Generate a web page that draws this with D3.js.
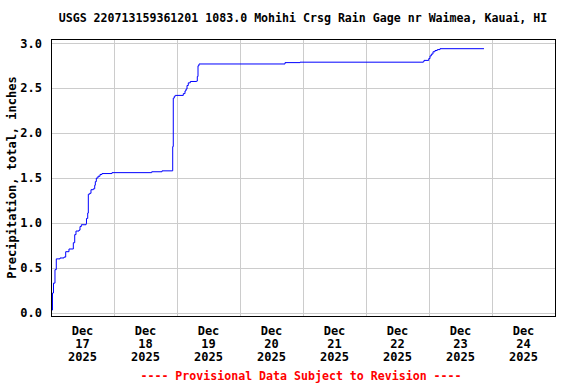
<!DOCTYPE html>
<html>
<head>
<meta charset="utf-8">
<script src="https://cdn.jsdelivr.net/npm/d3@7"></script>
<style>
  body { margin: 0; background: #fff; }
  text { font-family: "DejaVu Sans Mono", monospace; font-weight: bold; font-size: 12px; }
</style>
</head>
<body>
<svg id="chart"></svg>
<script>
// readings, Hawaii local time
const times = [
  "2025-12-17 00:11", "2025-12-17 00:34", "2025-12-17 00:57", "2025-12-17 01:31", "2025-12-17 02:01",
  "2025-12-17 03:26", "2025-12-17 04:57", "2025-12-17 05:36", "2025-12-17 06:51", "2025-12-17 08:30",
  "2025-12-17 09:02", "2025-12-17 09:31", "2025-12-17 10:40", "2025-12-17 11:03", "2025-12-17 11:33",
  "2025-12-17 13:20", "2025-12-17 13:31", "2025-12-17 13:59", "2025-12-17 14:13", "2025-12-17 14:44",
  "2025-12-17 15:14", "2025-12-17 16:07", "2025-12-17 16:39", "2025-12-17 16:53", "2025-12-17 17:16",
  "2025-12-17 17:54", "2025-12-17 18:40", "2025-12-17 19:26", "2025-12-17 23:14", "2025-12-18 14:22",
  "2025-12-18 18:17", "2025-12-18 22:22", "2025-12-18 22:35", "2025-12-18 22:58", "2025-12-18 23:21",
  "2025-12-19 02:24", "2025-12-19 03:03", "2025-12-19 03:26", "2025-12-19 03:49", "2025-12-19 04:18",
  "2025-12-19 05:04", "2025-12-19 07:30", "2025-12-19 07:44", "2025-12-19 08:00", "2025-12-19 08:23",
  "2025-12-20 11:26", "2025-12-20 17:09", "2025-12-20 22:51", "2025-12-22 21:49", "2025-12-22 22:06",
  "2025-12-22 23:54", "2025-12-23 00:23", "2025-12-23 00:53", "2025-12-23 01:31", "2025-12-23 02:17",
  "2025-12-23 03:09", "2025-12-23 04:11", "2025-12-23 20:57"
];
const precip = [
  0.03, 0.22, 0.33, 0.48, 0.60,
  0.61, 0.62, 0.68, 0.71, 0.78,
  0.87, 0.91, 0.92, 0.96, 0.98,
  0.99, 1.05, 1.11, 1.32, 1.33,
  1.37, 1.38, 1.42, 1.46, 1.50,
  1.52, 1.54, 1.55, 1.56, 1.57,
  1.58, 1.85, 2.39, 2.41, 2.42,
  2.44, 2.47, 2.49, 2.53, 2.56,
  2.575, 2.58, 2.63, 2.75, 2.77,
  2.77, 2.785, 2.79, 2.795, 2.81,
  2.83, 2.86, 2.88, 2.906, 2.92,
  2.93, 2.94, 2.94
];
const yTicks = [0, 0.5, 1.0, 1.5, 2.0, 2.5, 3.0];
const dayLabels = ["2025-12-17", "2025-12-18", "2025-12-19", "2025-12-20",
                   "2025-12-21", "2025-12-22", "2025-12-23", "2025-12-24"];
const title = "USGS 220713159361201 1083.0 Mohihi Crsg Rain Gage nr Waimea, Kauai, HI";
const yLabel = "Precipitation, total, inches";
const footnote = "---- Provisional Data Subject to Revision ----";

const W = 576, H = 384;
const margin = { top: 39, right: 21, bottom: 68, left: 51 };
const width = W - margin.left - margin.right;
const height = H - margin.top - margin.bottom;

const parseTime = d3.timeParse("%Y-%m-%d %H:%M");
const parseDay = d3.timeParse("%Y-%m-%d");
const data = times.map((t, i) => ({ t: parseTime(t), v: precip[i] }));

const x = d3.scaleTime()
  .domain([parseDay("2025-12-17"), parseDay("2025-12-25")])
  .range([0, width]);
const y = d3.scaleLinear()
  .domain([-0.036, 3.048])
  .range([height, 0]);

const svg = d3.select("#chart").attr("width", W).attr("height", H);
const g = svg.append("g").attr("transform", `translate(${margin.left},${margin.top})`);

// grid
g.selectAll(".hgrid").data(yTicks).enter().append("line")
  .attr("x1", 0).attr("x2", width)
  .attr("y1", d => Math.round(y(d)) + 0.5).attr("y2", d => Math.round(y(d)) + 0.5)
  .attr("stroke", "#cccccc");
const midnights = d3.timeDay.range(parseDay("2025-12-18"), parseDay("2025-12-25"));
g.selectAll(".vgrid").data(midnights).enter().append("line")
  .attr("x1", d => Math.round(x(d)) + 0.5).attr("x2", d => Math.round(x(d)) + 0.5)
  .attr("y1", 0).attr("y2", height)
  .attr("stroke", "#cccccc");

// series
const line = d3.line()
  .x(d => x(d.t))
  .y(d => y(d.v))
  .curve(d3.curveStepAfter);
g.append("path")
  .attr("d", line(data))
  .attr("fill", "none")
  .attr("stroke", "#0000ff")
  .attr("stroke-width", 1);

// frame
g.append("rect")
  .attr("x", 0.5).attr("y", 0.5)
  .attr("width", width).attr("height", height)
  .attr("fill", "none").attr("stroke", "#000");

// y tick labels
g.selectAll(".ylab").data(yTicks).enter().append("text")
  .attr("x", -9).attr("y", d => y(d))
  .attr("dy", "0.35em")
  .attr("text-anchor", "end")
  .text(d => d.toFixed(1));

// x tick labels (centered on noon)
const xl = g.selectAll(".xlab").data(dayLabels.map(parseDay)).enter().append("text")
  .attr("text-anchor", "middle")
  .attr("transform", d => `translate(${x(d3.timeHour.offset(d, 12))},${height + 19})`);
xl.append("tspan").attr("x", 0).attr("y", 0).text(d3.timeFormat("%b"));
xl.append("tspan").attr("x", 0).attr("y", 13).text(d3.timeFormat("%d"));
xl.append("tspan").attr("x", 0).attr("y", 26).text(d3.timeFormat("%Y"));

// title, axis label, footnote
svg.append("text")
  .attr("x", margin.left + width / 2).attr("y", 22)
  .attr("text-anchor", "middle")
  .style("font-size", "11.6px")
  .text(title);
svg.append("text")
  .attr("transform", `translate(16,${margin.top + height / 2}) rotate(-90)`)
  .attr("text-anchor", "middle")
  .text(yLabel);
svg.append("text")
  .attr("x", margin.left + width / 2 - 2).attr("y", 380)
  .attr("text-anchor", "middle")
  .attr("fill", "#ff0000")
  .style("font-size", "11.6px")
  .text(footnote);
</script>
</body>
</html>
